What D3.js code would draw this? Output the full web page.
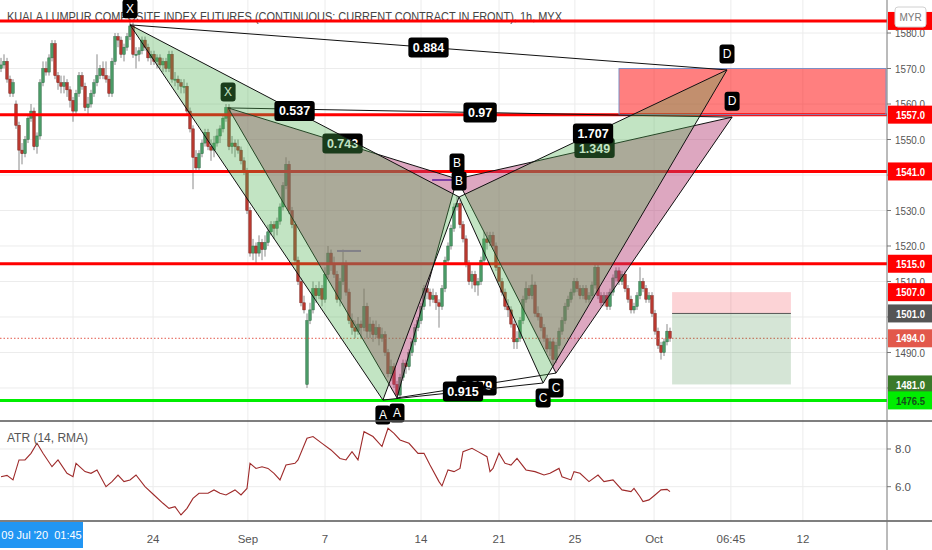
<!DOCTYPE html>
<html>
<head>
<meta charset="utf-8">
<title>KLCI Futures 1h - XABCD</title>
<style>
  html, body { margin: 0; padding: 0; background: #fff; overflow: hidden; }
  svg { display: block; font-family: "Liberation Sans", Arial, sans-serif; }
</style>
<script src="https://d3js.org/d3.v7.min.js"></script>
</head>
<body>
<div id="chart"></div>
<script>
// hourly candles [open, high, low, close]
const candles = [
  [1570,1573,1569,1571],[1571,1574,1570,1572],[1572,1573,1566,1567],[1567,1568,1562,1563],[1563,1567,1562,1566],
  [1560,1561,1553,1554],[1554,1555,1541,1547],[1547,1549,1543,1546],[1546,1551,1545,1550],[1550,1557,1549,1556],
  [1556,1560,1555,1558],[1558,1559,1547,1548],[1548,1552,1546,1551],[1551,1567,1550,1566],[1566,1572,1565,1570],
  [1570,1572,1568,1569],[1569,1574,1568,1573],[1573,1578,1572,1577],[1577,1578,1567,1568],[1568,1569,1564,1566],
  [1566,1568,1563,1565],[1565,1568,1563,1566],[1566,1567,1562,1564],[1564,1565,1559,1561],[1561,1562,1555,1558],
  [1558,1564,1557,1563],[1563,1569,1562,1568],[1568,1569,1564,1565],[1565,1566,1558,1559],[1559,1562,1557,1560],
  [1560,1564,1559,1563],[1563,1567,1562,1566],[1566,1574,1565,1568],[1568,1571,1567,1570],[1570,1572,1567,1568],
  [1568,1572,1566,1567],[1567,1568,1562,1563],[1563,1573,1562,1572],[1572,1580,1571,1579],[1579,1580,1576,1578],
  [1578,1579,1573,1574],[1574,1577,1572,1576],[1576,1580,1575,1579],[1579,1584,1578,1582],[1582,1583,1573,1574],
  [1574,1576,1570,1574],[1574,1576,1572,1575],[1575,1579,1574,1578],[1578,1579,1575,1576],[1576,1577,1572,1573],
  [1573,1575,1571,1574],[1574,1575,1571,1572],[1572,1574,1570,1573],[1573,1574,1570,1571],[1571,1573,1569,1572],
  [1572,1573,1569,1570],[1570,1575,1569,1574],[1574,1575,1566,1567],[1567,1569,1565,1567],[1567,1568,1564,1566],
  [1566,1567,1563,1565],[1565,1567,1563,1565],[1565,1566,1557,1558],[1558,1559,1552,1553],[1553,1554,1536,1545],
  [1545,1547,1541,1542],[1542,1547,1541,1546],[1546,1550,1545,1549],[1549,1553,1548,1552],[1552,1553,1547,1548],
  [1548,1550,1544,1547],[1547,1551,1545,1549],[1549,1553,1548,1551],[1551,1554,1549,1553],[1553,1557,1552,1556],
  [1556,1560,1555,1559],[1559,1560,1547,1548],[1548,1551,1546,1549],[1549,1550,1545,1548],[1548,1550,1546,1547],
  [1547,1548,1543,1544],[1544,1545,1540,1541],[1541,1542,1529,1530],[1530,1531,1517,1518],[1518,1522,1516,1520],
  [1520,1521,1515,1518],[1518,1523,1517,1521],[1521,1522,1516,1519],[1519,1523,1517,1521],[1521,1526,1520,1524],
  [1524,1527,1523,1526],[1526,1527,1522,1525],[1525,1528,1523,1527],[1527,1532,1526,1531],[1531,1538,1530,1537],
  [1537,1545,1536,1543],[1543,1544,1529,1530],[1530,1531,1525,1526],[1526,1527,1515,1516],[1516,1517,1509,1510],
  [1510,1511,1503,1504],[1504,1506,1501,1502],[1481,1501,1480,1499],[1499,1504,1498,1502],[1502,1510,1501,1508],
  [1508,1509,1504,1506],[1506,1510,1505,1508],[1508,1509,1503,1505],[1505,1514,1504,1512],[1512,1520,1511,1518],
  [1518,1519,1513,1515],[1515,1517,1511,1512],[1512,1513,1504,1505],[1505,1511,1503,1510],[1510,1519,1509,1515],
  [1515,1516,1506,1507],[1507,1508,1498,1499],[1499,1501,1495,1497],[1497,1499,1494,1496],[1496,1500,1495,1498],
  [1498,1499,1494,1497],[1497,1508,1496,1503],[1503,1504,1494,1496],[1496,1500,1494,1498],[1498,1499,1493,1495],
  [1495,1499,1494,1497],[1497,1498,1492,1494],[1494,1497,1493,1495],[1495,1496,1489,1490],[1490,1491,1483,1484],
  [1484,1488,1482,1486],[1486,1487,1480,1481],[1481,1482,1477,1478],[1478,1484,1477,1483],[1483,1488,1482,1487],
  [1487,1488,1484,1486],[1486,1491,1485,1490],[1490,1494,1489,1493],[1493,1498,1492,1497],[1497,1500,1496,1499],
  [1499,1504,1498,1503],[1503,1509,1502,1508],[1508,1509,1505,1507],[1507,1508,1503,1505],[1505,1508,1504,1506],
  [1506,1507,1502,1504],[1504,1505,1497,1503],[1503,1509,1502,1508],[1508,1517,1507,1516],[1516,1521,1515,1520],
  [1520,1526,1519,1525],[1525,1532,1524,1531],[1531,1534,1530,1532],[1532,1533,1525,1526],[1526,1527,1521,1522],
  [1522,1523,1514,1515],[1515,1516,1509,1510],[1510,1513,1508,1512],[1512,1513,1507,1509],[1509,1511,1506,1510],
  [1510,1517,1509,1516],[1516,1524,1515,1522],[1522,1524,1519,1521],[1521,1524,1520,1523],[1523,1524,1519,1520],
  [1520,1521,1513,1514],[1514,1515,1509,1510],[1510,1511,1506,1507],[1507,1508,1502,1503],[1503,1505,1500,1502],
  [1502,1503,1497,1498],[1498,1499,1491,1493],[1493,1496,1491,1494],[1494,1500,1493,1499],[1499,1506,1498,1505],
  [1505,1510,1504,1508],[1508,1509,1505,1506],[1506,1512,1505,1509],[1509,1510,1500,1501],[1501,1503,1499,1500],
  [1500,1501,1496,1497],[1497,1498,1493,1494],[1494,1495,1490,1491],[1491,1494,1489,1493],[1493,1494,1486,1488],
  [1488,1493,1487,1492],[1492,1497,1491,1496],[1496,1500,1495,1499],[1499,1504,1498,1503],[1503,1506,1502,1505],
  [1505,1508,1504,1507],[1507,1511,1506,1510],[1510,1511,1507,1508],[1508,1509,1505,1506],[1506,1509,1505,1508],
  [1508,1509,1504,1505],[1505,1507,1504,1506],[1506,1510,1505,1509],[1509,1515,1508,1514],[1514,1515,1505,1506],
  [1506,1507,1503,1504],[1504,1507,1503,1506],[1506,1507,1502,1503],[1503,1508,1502,1507],[1507,1512,1506,1511],
  [1511,1514,1510,1513],[1513,1514,1509,1510],[1510,1513,1509,1512],[1512,1513,1507,1508],[1508,1509,1504,1505],
  [1505,1506,1501,1502],[1502,1504,1501,1503],[1503,1507,1502,1506],[1506,1514,1505,1510],[1510,1511,1507,1508],
  [1508,1509,1504,1505],[1505,1507,1504,1506],[1506,1507,1500,1501],[1501,1502,1495,1496],[1496,1497,1491,1492],
  [1492,1493,1488,1490],[1490,1494,1489,1493],[1493,1498,1492,1496],[1496,1497,1493,1494]
];

// ATR (14, RMA) readings: bar index -> value
const atrBars = [0,2,4,6,8,10,12,14,17,19,22,24,25,28,30,32,35,37,39,41,43,45,48,51,54,56,58,60,62,64,66,69,71,73,75,78,80,82,
  83,85,87,89,91,93,95,98,99,102,104,107,110,113,115,117,119,121,124,127,129,131,133,136,139,141,143,146,147,149,151,153,154,
  157,159,162,163,164,166,168,170,172,175,178,181,183,186,187,190,191,193,196,199,201,204,207,210,211,213,214,216,218,220,222,223];
const atrValues = [6.53,6.6,6.36,7.42,7.42,7.77,8.3,7.77,7.06,7.42,6.71,6.53,7.24,6.8,6.71,6.89,6.0,6.27,6.62,6.27,6.36,6.62,6.0,5.56,5.12,4.85,4.94,4.5,4.85,5.38,5.65,5.65,5.83,5.65,5.56,5.83,5.56,5.91,
  7.24,6.97,7.06,6.97,6.71,6.36,7.15,7.24,7.42,8.57,8.66,8.3,7.95,7.5,7.42,7.86,7.42,8.92,8.66,8.13,9.1,8.83,8.48,8.3,7.77,7.77,7.15,6.27,6.04,6.89,6.8,6.97,7.86,
  8.04,7.86,7.59,6.8,6.97,7.77,7.24,7.15,7.5,6.89,6.8,6.62,6.71,6.97,6.53,6.36,6.8,6.71,6.27,6.62,6.27,6.36,5.83,5.74,5.91,5.47,5.21,5.3,5.56,5.83,5.86,5.74];

// time axis
const tickBars = [24, 50.7, 82.3, 108, 140, 166, 191.3, 217.7, 243.3, 267.3];
const tickLabels = ["17", "24", "Sep", "7", "14", "21", "25", "Oct", "06:45", "12"];
const priceTicks = [1480, 1490, 1500, 1510, 1520, 1530, 1540, 1550, 1560, 1570, 1580];
const atrTicks = [6, 8];

// drawn levels
const redLevels = [1583.4, 1557, 1541, 1515];
const greenLevel = 1476.5;
const lastPrice = 1494;

// XABCD patterns (bar index, price)
const pointNames = ["X", "A", "B", "C", "D"];
const pat1Bars = [43, 127.3, 152.7, 180.7, 242];
const pat1Prices = [1582.3, 1476.6, 1533.8, 1481.4, 1569.6];
const pat1Ratios = ["0.537", "0.915", "1.707", "0.884"];   // XB, AC, BD, XD
const pat2Bars = [75.7, 132, 152, 185, 243.7];
const pat2Prices = [1558.9, 1477.2, 1538.9, 1484.2, 1556.3];
const pat2Ratios = ["0.743", "0.879", "1.349", "0.97"];

// target zone and short position
const zoneBars = [206, 295];
const zonePrices = [1557, 1570];
const posBars = [223.7, 263.3];
const posPrices = [1481, 1501, 1507]; // target, entry, stop
const marks = [[112, 120, 1518.6], [143.7, 150.7, 1538.6]];

// price tags on the axis
const tagPrices = [1583.4, 1557, 1541, 1515, 1507, 1501, 1494, 1481, 1476.5];
const tagFill = ["#ff0000", "#ff0000", "#ff0000", "#ff0000", "#ff0000", "#555555", "#e2584b", "#3a7a2a", "#00ee00"];
const tagText = ["#fff", "#fff", "#fff", "#fff", "#fff", "#fff", "#fff", "#fff", "#14501a"];

const W = 932, H = 550, plotR = 887, mainB = 421, atrB = 521;

const x = d3.scaleLinear().domain([0, 295]).range([1, 886]);
const y = d3.scaleLinear().domain([1470.7, 1589.3]).range([mainB, 0]);
const ya = d3.scaleLinear().domain([4.18, 9.485]).range([atrB, mainB]);

const svg = d3.select("#chart").append("svg").attr("width", W).attr("height", H);
svg.append("rect").attr("width", W).attr("height", H).attr("fill", "#fff");

const defs = svg.append("defs");
defs.append("clipPath").attr("id", "main").append("rect").attr("width", plotR).attr("height", mainB);
defs.append("clipPath").attr("id", "atr").append("rect").attr("y", mainB).attr("width", plotR).attr("height", atrB - mainB);

// grid
const grid = svg.append("g").attr("stroke", "#ececec").attr("stroke-width", 1);
grid.selectAll(".hg").data(priceTicks).enter().append("line")
  .attr("x1", 0).attr("x2", plotR).attr("y1", d => y(d)).attr("y2", d => y(d));
grid.selectAll(".ag").data(atrTicks).enter().append("line")
  .attr("x1", 0).attr("x2", plotR).attr("y1", d => ya(d)).attr("y2", d => ya(d));
grid.selectAll(".vg").data(tickBars).enter().append("line")
  .attr("x1", d => x(d)).attr("x2", d => x(d)).attr("y1", 0).attr("y2", atrB);

// title
svg.append("text").attr("x", 7).attr("y", 21).attr("font-size", 13).attr("fill", "#444")
  .attr("textLength", 555).attr("lengthAdjust", "spacingAndGlyphs")
  .text("KUALA LUMPUR COMPOSITE INDEX FUTURES (CONTINUOUS: CURRENT CONTRACT IN FRONT), 1h, MYX");

const main = svg.append("g").attr("clip-path", "url(#main)");

// candles
const cg = main.append("g");
cg.selectAll(".wick").data(candles).enter().append("line")
  .attr("x1", (d, i) => x(i)).attr("x2", (d, i) => x(i))
  .attr("y1", d => y(d[1])).attr("y2", d => y(d[2]))
  .attr("stroke", "#8a8a8a").attr("stroke-width", 1);
cg.selectAll(".body").data(candles).enter().append("rect")
  .attr("x", (d, i) => x(i) - 1.25).attr("width", 2.5)
  .attr("y", d => y(Math.max(d[0], d[3])))
  .attr("height", d => Math.max(1, Math.abs(y(d[0]) - y(d[3]))))
  .attr("fill", d => d[3] >= d[0] ? "#4a9a66" : "#b8382f")
  .attr("stroke", d => d[3] >= d[0] ? "#2f6b45" : "#7c231d").attr("stroke-width", 0.5);

// levels
main.append("line").attr("x1", 0).attr("x2", plotR).attr("y1", y(lastPrice)).attr("y2", y(lastPrice))
  .attr("stroke", "#e2584b").attr("stroke-width", 1).attr("stroke-dasharray", "1.5,2");
main.selectAll(".lvl").data(redLevels).enter().append("line")
  .attr("x1", 0).attr("x2", plotR).attr("y1", d => y(d)).attr("y2", d => y(d))
  .attr("stroke", "#ff0000").attr("stroke-width", 3);
main.append("line").attr("x1", 0).attr("x2", plotR).attr("y1", y(greenLevel)).attr("y2", y(greenLevel))
  .attr("stroke", "#00ee00").attr("stroke-width", 3);

// small marks
main.selectAll(".mk").data(marks).enter().append("line")
  .attr("x1", d => x(d[0])).attr("x2", d => x(d[1])).attr("y1", d => y(d[2])).attr("y2", d => y(d[2]))
  .attr("stroke", (d, i) => i ? "#4b3fd0" : "#8c90d0").attr("stroke-width", 2);

// target zone box
main.append("rect")
  .attr("x", x(zoneBars[0])).attr("width", x(zoneBars[1]) - x(zoneBars[0]))
  .attr("y", y(zonePrices[1])).attr("height", y(zonePrices[0]) - y(zonePrices[1]))
  .attr("fill", "rgba(255,0,0,0.5)").attr("stroke", "#7d8fc4").attr("stroke-width", 1);

// short position tool
main.append("rect")
  .attr("x", x(posBars[0])).attr("width", x(posBars[1]) - x(posBars[0]))
  .attr("y", y(posPrices[2])).attr("height", y(posPrices[1]) - y(posPrices[2]))
  .attr("fill", "rgba(242,54,69,0.22)");
main.append("rect")
  .attr("x", x(posBars[0])).attr("width", x(posBars[1]) - x(posBars[0]))
  .attr("y", y(posPrices[1])).attr("height", y(posPrices[0]) - y(posPrices[1]))
  .attr("fill", "rgba(46,125,50,0.2)");
main.append("line").attr("x1", x(posBars[0])).attr("x2", x(posBars[1]))
  .attr("y1", y(posPrices[1])).attr("y2", y(posPrices[1])).attr("stroke", "#555").attr("stroke-width", 1);

// XABCD pattern drawing
function points(bars, prices) {
  return bars.map((b, i) => [x(b), y(prices[i])]);
}

function drawShapes(p, fill) {
  const g = svg.append("g");
  const tri = d3.line();
  g.append("path").attr("d", tri([p[0], p[1], p[2]]) + "Z").attr("fill", fill);
  g.append("path").attr("d", tri([p[2], p[3], p[4]]) + "Z").attr("fill", fill);
  const segs = [[0, 1], [1, 2], [2, 3], [3, 4], [0, 2], [1, 3], [2, 4], [0, 4]];
  g.selectAll(".seg").data(segs).enter().append("line")
    .attr("x1", d => p[d[0]][0]).attr("y1", d => p[d[0]][1])
    .attr("x2", d => p[d[1]][0]).attr("y2", d => p[d[1]][1])
    .attr("stroke", "#111").attr("stroke-width", 1);
}

function drawLabels(p, ratios) {
  const g = svg.append("g");
  // ratio labels at the middle of XB, AC, BD, XD
  [[0, 2], [1, 3], [2, 4], [0, 4]].forEach((s, i) => {
    const cx = (p[s[0]][0] + p[s[1]][0]) / 2, cy = (p[s[0]][1] + p[s[1]][1]) / 2;
    const lg = g.append("g").attr("transform", `translate(${cx},${cy})`);
    const t = lg.append("text").attr("text-anchor", "middle").attr("dy", "0.36em")
      .attr("font-size", 12.5).attr("font-weight", "bold").attr("fill", "#fff").text(ratios[i]);
    const w = t.node().getComputedTextLength() + 9;
    lg.insert("rect", "text").attr("x", -w / 2).attr("y", -10).attr("width", w).attr("height", 20)
      .attr("rx", 3).attr("fill", "#000");
  });
  // point labels
  pointNames.forEach((n, i) => {
    const up = (i % 2 === 0);
    const lg = g.append("g").attr("transform", `translate(${p[i][0]},${p[i][1] + (up ? -16 : 15)})`);
    lg.append("rect").attr("x", -7.5).attr("y", -9.5).attr("width", 15).attr("height", 19).attr("rx", 3).attr("fill", "#000");
    lg.append("text").attr("text-anchor", "middle").attr("dy", "0.36em").attr("font-size", 12)
      .attr("fill", "#fff").text(n);
  });
}

// second pattern underneath; the first one's fill lies over its labels
const p2 = points(pat2Bars, pat2Prices);
const p1 = points(pat1Bars, pat1Prices);
drawShapes(p2, "rgba(180,60,115,0.45)");
drawLabels(p2, pat2Ratios);
drawShapes(p1, "rgba(76,175,80,0.34)");
drawLabels(p1, pat1Ratios);

// ATR pane
svg.append("path").datum(atrBars.map((b, i) => [b, atrValues[i]]))
  .attr("clip-path", "url(#atr)")
  .attr("fill", "none").attr("stroke", "#9e2a2a").attr("stroke-width", 1.1)
  .attr("d", d3.line().x(d => x(d[0])).y(d => ya(d[1])));
svg.append("text").attr("x", 7).attr("y", 442).attr("font-size", 12).attr("fill", "#555").text("ATR (14, RMA)");

// separators and axes
svg.append("rect").attr("x", plotR).attr("y", 0).attr("width", W - plotR).attr("height", H).attr("fill", "#fff");
svg.append("rect").attr("x", 0).attr("y", atrB).attr("width", plotR).attr("height", H - atrB).attr("fill", "#fff");
svg.append("line").attr("x1", 0).attr("x2", W).attr("y1", mainB).attr("y2", mainB).attr("stroke", "#555").attr("stroke-width", 1.5);
svg.append("line").attr("x1", 0).attr("x2", W).attr("y1", atrB).attr("y2", atrB).attr("stroke", "#555").attr("stroke-width", 1.5);
svg.append("line").attr("x1", plotR).attr("x2", plotR).attr("y1", 0).attr("y2", H).attr("stroke", "#777").attr("stroke-width", 1);

// price ticks; labels that sit fully under a tag are not shown, as in the original
const visibleTicks = priceTicks.filter(t => !tagPrices.some(tp => Math.abs(y(tp) - y(t)) < 9));
const yAxis = svg.append("g");
yAxis.selectAll(".pt").data(priceTicks).enter().append("line")
  .attr("x1", plotR).attr("x2", plotR + 4).attr("y1", d => y(d)).attr("y2", d => y(d)).attr("stroke", "#777");
yAxis.selectAll(".pl").data(visibleTicks).enter().append("text")
  .attr("x", 895).attr("y", d => y(d)).attr("dy", "0.35em").attr("font-size", 11.5).attr("fill", "#555")
  .attr("textLength", 30).attr("lengthAdjust", "spacingAndGlyphs")
  .text(d => d3.format(".1f")(d));
yAxis.selectAll(".at").data(atrTicks).enter().append("line")
  .attr("x1", plotR).attr("x2", plotR + 4).attr("y1", d => ya(d)).attr("y2", d => ya(d)).attr("stroke", "#777");
yAxis.selectAll(".al").data(atrTicks).enter().append("text")
  .attr("x", 895).attr("y", d => ya(d)).attr("dy", "0.35em").attr("font-size", 11.5).attr("fill", "#555")
  .text(d => d3.format(".1f")(d));

// tags
const tags = yAxis.selectAll(".tag").data(tagPrices).enter().append("g")
  .attr("transform", d => `translate(${plotR + 1},${y(d)})`);
tags.append("rect").attr("x", 0).attr("y", -9).attr("width", W - plotR - 1).attr("height", 18)
  .attr("fill", (d, i) => tagFill[i]);
tags.append("text").attr("x", 8).attr("dy", "0.36em").attr("font-size", 11.5).attr("font-weight", "bold")
  .attr("fill", (d, i) => tagText[i]).attr("textLength", 29).attr("lengthAdjust", "spacingAndGlyphs")
  .text((d, i) => i === 0 ? "" : d3.format(".1f")(d));

// currency badge
svg.append("rect").attr("x", 895).attr("y", 7).attr("width", 31).attr("height", 20).attr("rx", 3)
  .attr("fill", "#fff").attr("stroke", "#d0d0d0");
svg.append("text").attr("x", 910.5).attr("y", 17).attr("dy", "0.35em").attr("text-anchor", "middle")
  .attr("font-size", 10).attr("fill", "#777").text("MYR");

// time axis
const xAxis = svg.append("g");
xAxis.selectAll(".tl").data(tickBars.slice(1)).enter().append("text")
  .attr("x", d => x(d)).attr("y", 539).attr("dy", "0.35em").attr("text-anchor", "middle")
  .attr("font-size", 11.5).attr("fill", "#555").text((d, i) => tickLabels[i + 1]);
xAxis.append("rect").attr("x", 0).attr("y", 522).attr("width", 83).attr("height", 26).attr("fill", "#2196f3");
xAxis.append("text").attr("x", 41.5).attr("y", 535).attr("dy", "0.35em").attr("text-anchor", "middle")
  .attr("font-size", 11).attr("fill", "#fff").attr("xml:space", "preserve").text("09 Jul '20  01:45");
</script>
</body>
</html>
